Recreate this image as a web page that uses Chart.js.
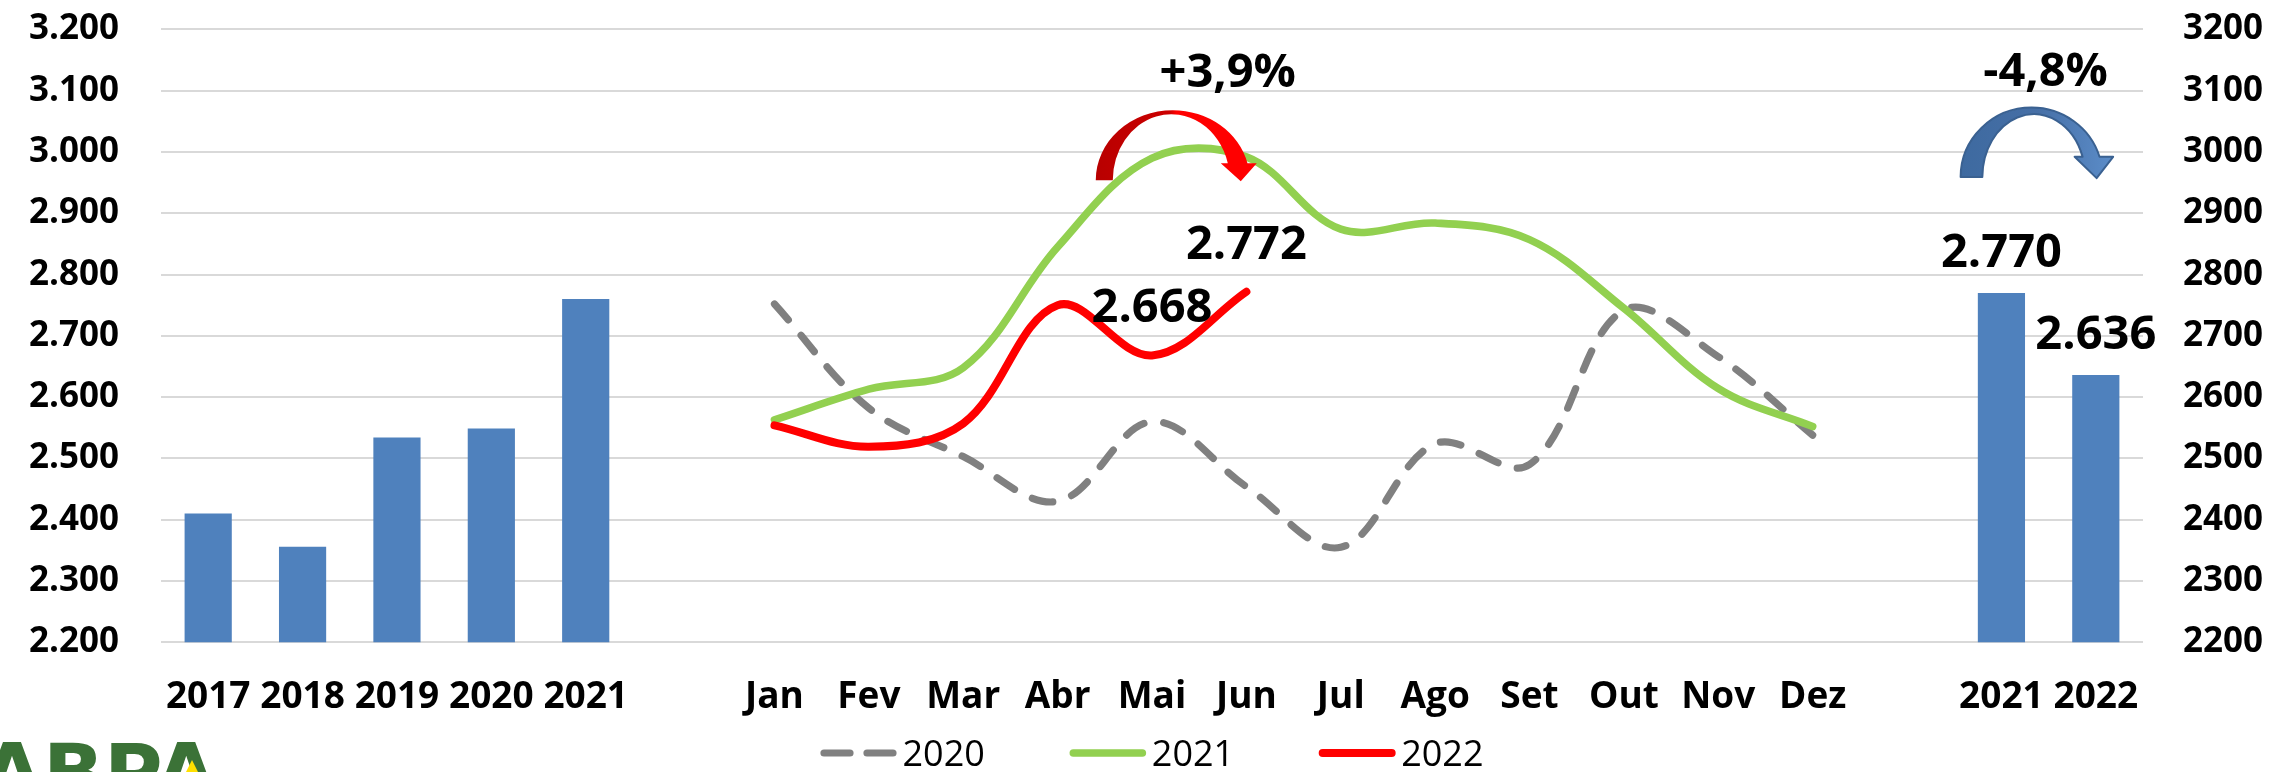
<!DOCTYPE html>
<html>
<head>
<meta charset="utf-8">
<script src="https://cdn.jsdelivr.net/npm/chart.js@4.4.0/dist/chart.umd.min.js"></script>
<style>
html,body{margin:0;padding:0;background:#ffffff;}
#wrap{width:2278px;height:772px;position:relative;}
</style>
</head>
<body>
<div id="wrap"><canvas id="c" width="2278" height="772"></canvas></div>
<script>
// ---------------- data ----------------
const annualYears  = ['2017', '2018', '2019', '2020', '2021'];
const annualValues = [2410, 2356, 2534, 2549, 2760];

const months     = ['Jan', 'Fev', 'Mar', 'Abr', 'Mai', 'Jun', 'Jul', 'Ago', 'Set', 'Out', 'Nov', 'Dez'];
const values2020 = [2752, 2582, 2503, 2430, 2560, 2454, 2355, 2524, 2490, 2742, 2666, 2538];
const values2021 = [2563, 2613, 2648, 2845, 2990, 2992, 2874, 2884, 2857, 2745, 2614, 2552];
const values2022 = [2554, 2519, 2557, 2750, 2668, 2772];

const ytdYears  = ['2021', '2022'];
const ytdValues = [2770, 2636];

const seriesNames    = ['2020', '2021', '2022'];
const labelledMonths = ['Mai', 'Jun'];
const changeLabels   = ['+3,9%', '-4,8%'];

const yMin = 2200, yMax = 3200, yStep = 100;

// ---------------- build table ----------------
const labels = [...annualYears, ' ', ...months, '  ', ...ytdYears];
const monthStart = annualYears.length + 1;
const ytdStart = monthStart + months.length + 1;

const barData = labels.map((_, i) =>
  i < annualYears.length ? annualValues[i] :
  (i >= ytdStart ? ytdValues[i - ytdStart] : null));

function monthSeries(vals) {
  return labels.map((_, i) => {
    const k = i - monthStart;
    return (k >= 0 && k < months.length && vals[k] !== undefined) ? vals[k] : null;
  });
}

function fmtPt(v) { return String(Math.round(v)).replace(/\B(?=(\d{3})+(?!\d))/g, '.'); }

const FONT = '"Open Sans", "Liberation Sans", sans-serif';
const GREY = '#808080', GREEN = '#92D050', RED = '#FF0000', BLUE = '#4F81BD';

// ---------------- plugins ----------------
function curvedArrow(ctx, o) {
  const {cx, cy, rxO, ryO, cxI, rxI, ryI, headUp, headL, headR, tipX, fill, stroke} = o;
  const hy = cy - headUp;
  const aO = 2 * Math.PI - Math.asin(headUp / ryO);
  const aI = 2 * Math.PI - Math.asin(headUp / ryI);
  ctx.beginPath();
  ctx.moveTo(cx - rxO, cy);
  ctx.ellipse(cx, cy, rxO, ryO, 0, Math.PI, aO, false);
  ctx.lineTo(headR, hy);
  ctx.lineTo(tipX, cy + 1);
  ctx.lineTo(headL, hy);
  ctx.lineTo(cxI + rxI * Math.cos(aI), cy + ryI * Math.sin(aI));
  ctx.ellipse(cxI, cy, rxI, ryI, 0, aI, Math.PI, true);
  ctx.closePath();
  ctx.fillStyle = fill;
  ctx.fill();
  if (stroke) { ctx.lineWidth = 2; ctx.strokeStyle = stroke; ctx.lineJoin = 'round'; ctx.stroke(); }
}

const decorPlugin = {
  id: 'decor',
  afterDatasetsDraw(chart) {
    const ctx = chart.ctx;
    const xs = chart.scales.x, ys = chart.scales.y;
    const w = xs.getPixelForValue(1) - xs.getPixelForValue(0);
    ctx.save();

    // value labels on 2022 line
    ctx.fillStyle = '#000';
    ctx.textAlign = 'center';
    ctx.textBaseline = 'alphabetic';
    ctx.font = 'bold 47px ' + FONT;
    const meta22 = chart.getDatasetMeta(3);
    labelledMonths.forEach(mn => {
      const k = months.indexOf(mn);
      const el = meta22.data[monthStart + k];
      if (el) ctx.fillText(fmtPt(values2022[k]), el.x, el.y - 50 + 17);
    });
    // value labels on 2021/2022 bars
    const metaB = chart.getDatasetMeta(0);
    ytdValues.forEach((v, k) => {
      const el = metaB.data[ytdStart + k];
      if (el) ctx.fillText(fmtPt(v), el.x, el.y - 43 + 17);
    });

    // red curved arrow (Mai -> Jun)
    const rcx = xs.getPixelForValue(monthStart + 4) + 0.22 * w;
    const rcy = ys.getPixelForValue(2954);
    const rg = ctx.createLinearGradient(rcx - 77, 0, rcx + 84, 0);
    rg.addColorStop(0, '#B80000');
    rg.addColorStop(0.46, '#CC0000');
    rg.addColorStop(0.5, '#FF0000');
    rg.addColorStop(1, '#FF0000');
    curvedArrow(ctx, {cx: rcx, cy: rcy, rxO: 77, ryO: 70, cxI: rcx - 1.5, rxI: 58.5, ryI: 66,
      headUp: 17, headL: rcx + 48, headR: rcx + 84, tipX: rcx + 68, fill: rg});

    // blue curved arrow (2021 -> 2022)
    const bcx = xs.getPixelForValue(ytdStart) + 0.32 * w;
    const bcy = ys.getPixelForValue(2959);
    const bg = ctx.createLinearGradient(bcx - 70, 0, bcx + 80, 0);
    bg.addColorStop(0, '#3E6AA0');
    bg.addColorStop(0.5, '#466FA6');
    bg.addColorStop(1, '#5B8CC8');
    curvedArrow(ctx, {cx: bcx, cy: bcy, rxO: 71, ryO: 69.5, cxI: bcx + 2.2, rxI: 51.5, ryI: 63,
      headUp: 20.3, headL: bcx + 43, headR: bcx + 81.5, tipX: bcx + 65, fill: bg, stroke: '#3A6191'});

    // percentage labels
    ctx.fillStyle = '#000';
    ctx.font = 'bold 47px ' + FONT;
    ctx.fillText(changeLabels[0], rcx + 55, chart.chartArea.top + 58);
    ctx.fillText(changeLabels[1], bcx + 14, chart.chartArea.top + 57);
    ctx.restore();
  },
  afterDraw(chart) {
    const ctx = chart.ctx;
    const ca = chart.chartArea;
    ctx.save();
    // legend (line series only)
    ctx.font = '36px ' + FONT;
    ctx.textBaseline = 'alphabetic';
    ctx.textAlign = 'left';
    const sampleW = 76, gapT = 6, gapItem = 85, ly = 753;
    const items = [1, 2, 3].map(i => chart.data.datasets[i]);
    const widths = items.map(d => sampleW + gapT + ctx.measureText(d.label).width);
    const total = widths.reduce((a, b) => a + b, 0) + gapItem * (items.length - 1);
    let x = (ca.left + ca.right) / 2 - total / 2;
    items.forEach((d, i) => {
      ctx.beginPath();
      ctx.lineCap = 'round';
      ctx.lineWidth = d.borderWidth;
      ctx.strokeStyle = d.borderColor;
      ctx.setLineDash(d.borderDash && d.borderDash.length ? [26, 17] : []);
      ctx.moveTo(x + 3.5, ly);
      ctx.lineTo(x + sampleW - 3.5, ly);
      ctx.stroke();
      ctx.setLineDash([]);
      ctx.fillStyle = '#000';
      ctx.fillText(d.label, x + sampleW + gapT, ly + 13);
      x += widths[i] + gapItem;
    });

    // logo (cut by the bottom edge)
    ctx.fillStyle = '#3B7237';
    ctx.font = 'bold 80px "DejaVu Sans", "Liberation Sans", sans-serif';
    ctx.textAlign = 'left';
    ctx.fillText('ABPA', -19, 801);
    ctx.fillStyle = '#FFE000';
    ctx.beginPath();
    ctx.moveTo(192, 760); ctx.lineTo(198, 772); ctx.lineTo(186, 772); ctx.closePath();
    ctx.fill();
    ctx.restore();
  }
};

// ---------------- chart ----------------
const lineCommon = {
  type: 'line', pointRadius: 0, pointHoverRadius: 0, tension: 0.36,
  borderWidth: 7.6, borderCapStyle: 'round', borderJoinStyle: 'round', fill: false, spanGaps: false
};

function fixY(width) {
  return s => { s.width = width; s.paddingTop = 10; s.paddingBottom = 10; };
}

new Chart(document.getElementById('c'), {
  type: 'bar',
  data: {
    labels: labels,
    datasets: [
      { type: 'bar', label: 'Acumulado', data: barData, backgroundColor: BLUE,
        barPercentage: 0.5, categoryPercentage: 1.0, order: 4 },
      Object.assign({}, lineCommon, { label: seriesNames[0], data: monthSeries(values2020),
        borderColor: GREY, borderWidth: 7.2, borderDash: [21, 20], order: 3 }),
      Object.assign({}, lineCommon, { label: seriesNames[1], data: monthSeries(values2021),
        borderColor: GREEN, order: 2 }),
      Object.assign({}, lineCommon, { label: seriesNames[2], data: monthSeries(values2022),
        borderColor: RED, borderWidth: 8, order: 1 })
    ]
  },
  options: {
    responsive: false,
    devicePixelRatio: 1,
    animation: false,
    layout: { padding: { top: 29.4, bottom: 52, left: 0, right: 0 } },
    plugins: { legend: { display: false }, tooltip: { enabled: false } },
    scales: {
      x: {
        offset: true,
        grid: { display: false, drawTicks: false },
        border: { display: false },
        ticks: { color: '#000', font: { family: FONT, size: 37, weight: 'bold' },
                 padding: 33, maxRotation: 0, autoSkip: false },
        afterFit: s => { s.height = 77.7; s.paddingLeft = 0; s.paddingRight = 0; }
      },
      y: {
        position: 'left', min: yMin, max: yMax,
        grid: { color: '#D9D9D9', lineWidth: 2, drawTicks: false },
        border: { display: false },
        ticks: { stepSize: yStep, color: '#000', padding: 42,
                 font: { family: FONT, size: 35, weight: 'bold' },
                 callback: v => fmtPt(v) },
        afterFit: fixY(161)
      },
      y2: {
        position: 'right', min: yMin, max: yMax,
        grid: { display: false, drawTicks: false },
        border: { display: false },
        ticks: { stepSize: yStep, color: '#000', padding: 40,
                 font: { family: FONT, size: 35, weight: 'bold' },
                 callback: v => String(v) },
        afterFit: fixY(135)
      }
    }
  },
  plugins: [decorPlugin]
});
</script>
</body>
</html>
